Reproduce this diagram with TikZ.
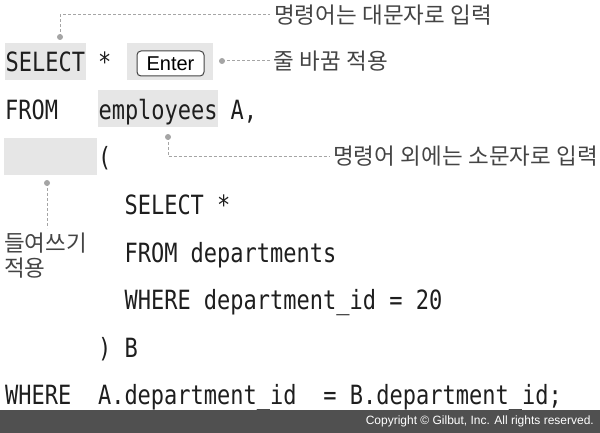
\documentclass[tikz,border=0pt]{standalone}
\usepackage{fontspec}
\usepackage{tikz}
\usetikzlibrary{calc,positioning}

\newfontfamily\codefont[FakeStretch=0.83]{DejaVu Sans Mono}
\newfontfamily\kofont[WordSpace=1.1]{Noto Sans CJK KR}
\newfontfamily\keyfont{Liberation Sans}

\definecolor{hlgray}{HTML}{E6E6E6}
\definecolor{codeblack}{HTML}{1E1E1E}
\definecolor{notetext}{HTML}{444444}
\definecolor{linegray}{HTML}{A5A5A5}
\definecolor{bargray}{HTML}{505050}

\tikzset{
  code/.style={anchor=base west, inner sep=0pt, text=codeblack,
    font=\codefont\fontsize{26.5}{30}\selectfont},
  hl/.style={code, fill=hlgray, inner xsep=0.5pt, text height=29pt, text depth=8pt},
  note/.style={anchor=west, inner sep=0pt, text=notetext,
    font=\kofont\fontsize{22.5}{25}\selectfont},
  callout/.style={linegray, line width=1pt, dash pattern=on 3pt off 2pt},
  calldot/.style={fill=linegray},
}

\begin{document}
\begin{tikzpicture}[x=1pt, y=-1pt]
\useasboundingbox (0,0) rectangle (600,433);

% Row 1
\node[hl] (sel) at (5,72) {SELECT};
\node[code] (star) at (97.82,72) {*};
\node[fill=hlgray, minimum width=86pt, minimum height=37pt, inner sep=0pt] (enterbg) at (170,61.5) {};
\node[draw=notetext, fill=white, rounded corners=4pt, line width=1pt,
  minimum width=67pt, minimum height=25pt, inner sep=0pt,
  font=\keyfont\fontsize{20}{24}\selectfont] (enterkey) at (170.5,63.5) {Enter};

% Row 2
\node[code] (from) at (5,119.5) {FROM};
\node[hl] (emp) at (97.82,119.5) {employees};
\node[code] (aliasa) at (230.42,119.5) {A,};

% Row 3
\node[fill=hlgray, anchor=north west, inner sep=0pt, minimum width=93pt, minimum height=37pt] (indent) at (4,138) {};
\node[code] (lpar) at (97.82,167) {(};

% Subquery
\node[code] (subsel) at (124.34,214.5) {SELECT *};
\node[code] (subfrom) at (124.34,262) {FROM departments};
\node[code] (subwhere) at (124.34,309.5) {WHERE department\_id = 20};
\node[code] (rpar) at (97.82,357) {) B};

% Last row
\node[code] (where) at (5,404.5) {WHERE};
\node[code] (lhs) at (97.82,404.5) {A.department\_id};
\node[code] (rhs) at (323.24,404.5) {= B.department\_id;};

% Notes
\node[note] (notecaps) at (274,15) {명령어는 대문자로 입력};
\node[note] (noteenter) at (273,61) {줄 바꿈 적용};
\node[note] (notelower) at (333,156.5) {명령어 외에는 소문자로 입력};
\node[note, anchor=north west, align=left] (noteindent) at (4,233) {들여쓰기\\적용};

% Callouts
\coordinate (capsdot) at (60,37);
\coordinate (enterdot) at (222,61);
\coordinate (lowerdot) at (168,137);
\coordinate (indentdot) at (47,183);
\coordinate (indentend) at (47,228);
\draw[callout] (capsdot) |- ([xshift=-4pt]notecaps.west);
\draw[callout] (enterdot) -- ([xshift=-3pt]noteenter.west);
\draw[callout] (lowerdot) |- ([xshift=-3pt]notelower.west);
\draw[callout] (indentdot) -- (indentend);
\foreach \d in {capsdot,enterdot,lowerdot,indentdot}
  \fill[calldot] (\d) circle (3pt);

% Copyright bar
\fill[bargray] (0,410) rectangle (600,433);
\node[anchor=east, inner sep=0pt, text=white, font=\keyfont\fontsize{12}{14}\selectfont] (copy) at (594,421.5) {Copyright © Gilbut, Inc. All rights reserved.};

\end{tikzpicture}
\end{document}
